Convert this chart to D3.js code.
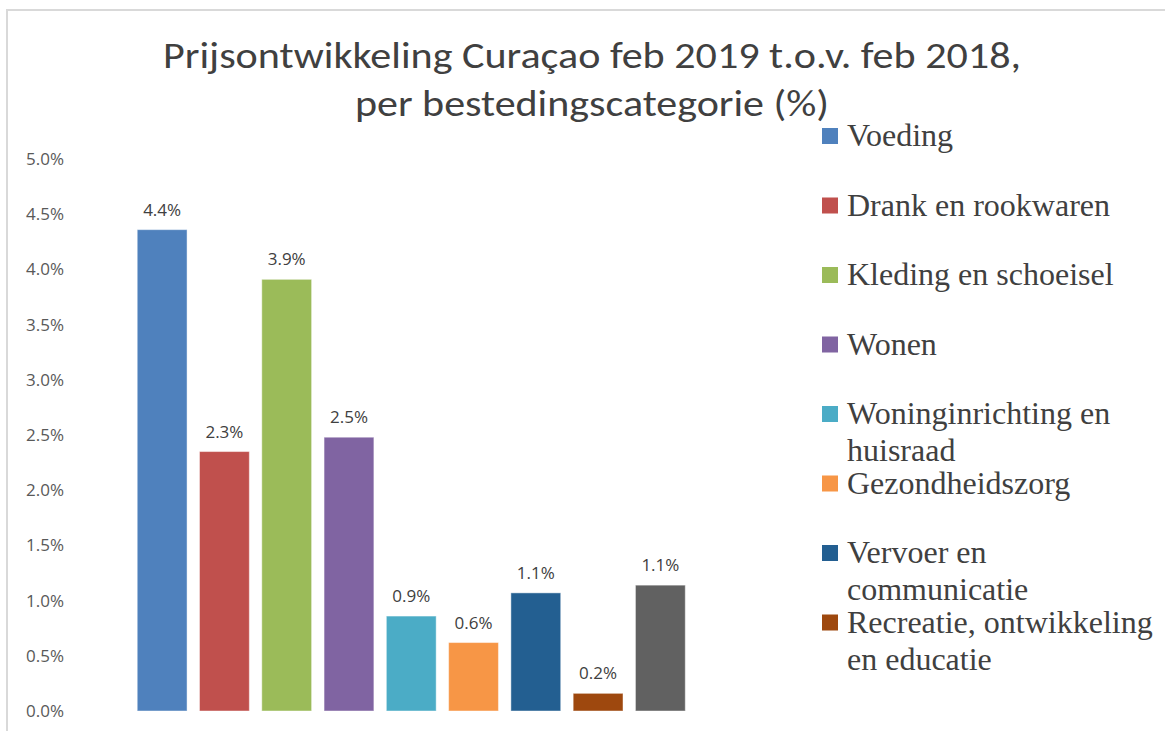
<!DOCTYPE html>
<html>
<head>
<meta charset="utf-8">
<script src="https://cdn.jsdelivr.net/npm/d3@7"></script>
<style>
  html, body { margin: 0; padding: 0; background: #fff; }
  svg { display: block; }
</style>
</head>
<body>
<div id="chart"></div>
<script>
// Prijsontwikkeling Curaçao — bar chart per bestedingscategorie

const titleLines = ['Prijsontwikkeling Curaçao feb 2019 t.o.v. feb 2018,', 'per bestedingscategorie (%)'];
const categories = [
  'Voeding', 'Drank en rookwaren', 'Kleding en schoeisel', 'Wonen',
  'Woninginrichting en huisraad', 'Gezondheidszorg', 'Vervoer en communicatie',
  'Recreatie, ontwikkeling en educatie', 'Overige'
];
const values = [4.36, 2.35, 3.91, 2.48, 0.86, 0.62, 1.07, 0.16, 1.14];
const labels = ['4.4%', '2.3%', '3.9%', '2.5%', '0.9%', '0.6%', '1.1%', '0.2%', '1.1%'];
const colors = ['#4f81bd', '#c0504d', '#9bbb59', '#8064a2', '#4bacc6', '#f79646', '#235f91', '#9e480e', '#616161'];
const yTicks = [0, 0.5, 1, 1.5, 2, 2.5, 3, 3.5, 4, 4.5, 5];
const legendCount = 8; // the last entry doesn't fit in the legend box

const W = 1165, H = 731;
const plot = { left: 131, right: 691.5, top: 159, bottom: 711 };

const svg = d3.select('#chart').append('svg')
  .attr('width', W)
  .attr('height', H);

// Chart frame (only top and left edges are in view)
svg.append('path')
  .attr('d', `M7,${H} V10 H${W}`)
  .attr('fill', 'none')
  .attr('stroke', '#d9d9d9')
  .attr('stroke-width', 2);

// Title
svg.append('g').selectAll('text')
  .data(titleLines)
  .join('text')
  .attr('x', 592)
  .attr('y', (d, i) => 68 + i * 48)
  .attr('text-anchor', 'middle')
  .attr('font-family', 'Carlito, Calibri, Lato, "Open Sans", sans-serif')
  .attr('font-size', '36px')
  .attr('fill', '#404040')
  .attr('textLength', (d, i) => i === 0 ? 858 : 474)
  .attr('lengthAdjust', 'spacingAndGlyphs')
  .text(d => d);

// Scales
const x = d3.scaleBand()
  .domain(categories)
  .range([plot.left, plot.right])
  .paddingInner(0.2)
  .paddingOuter(0.1);

const y = d3.scaleLinear()
  .domain([0, 5])
  .range([plot.bottom, plot.top]);

// Y axis labels (no axis line, no gridlines)
const yAxis = svg.append('g')
  .attr('transform', 'translate(64,0)')
  .call(d3.axisLeft(y).tickValues(yTicks).tickSize(0).tickPadding(0).tickFormat(d => d.toFixed(1) + '%'));
yAxis.select('.domain').remove();
yAxis.selectAll('text')
  .attr('font-family', '"Open Sans", sans-serif')
  .attr('font-size', '17px')
  .attr('fill', '#595959');

// Bars
svg.append('g').selectAll('rect')
  .data(categories)
  .join('rect')
  .attr('x', d => x(d))
  .attr('y', (d, i) => y(values[i]))
  .attr('width', x.bandwidth())
  .attr('height', (d, i) => y(0) - y(values[i]))
  .attr('fill', (d, i) => colors[i])
  .attr('stroke', 'rgba(255,255,255,0.45)')
  .attr('stroke-width', 1);

// Data labels
svg.append('g').selectAll('text')
  .data(categories)
  .join('text')
  .attr('x', d => x(d) + x.bandwidth() / 2)
  .attr('y', (d, i) => y(values[i]) - 14)
  .attr('text-anchor', 'middle')
  .attr('font-family', '"Open Sans", sans-serif')
  .attr('font-size', '17px')
  .attr('fill', '#404040')
  .text((d, i) => labels[i]);

// Legend
const legendX = 822, legendTop = 146, legendStep = 69.5, lineH = 37, maxTextW = 318;
const legend = svg.append('g');

categories.slice(0, legendCount).forEach((name, i) => {
  const by = legendTop + i * legendStep;
  const item = legend.append('g');

  item.append('rect')
    .attr('x', legendX)
    .attr('y', by - 18)
    .attr('width', 16)
    .attr('height', 16)
    .attr('fill', colors[i]);

  const txt = item.append('text')
    .attr('x', legendX + 25)
    .attr('y', by)
    .attr('font-family', '"Liberation Serif", "Times New Roman", serif')
    .attr('font-size', '32px')
    .attr('fill', '#404040');

  // simple word wrap
  const words = name.split(' ');
  let line = [];
  let lineNo = 0;
  let tspan = txt.append('tspan').attr('x', legendX + 25).attr('y', by);
  words.forEach(w => {
    line.push(w);
    tspan.text(line.join(' '));
    if (tspan.node().getComputedTextLength() > maxTextW && line.length > 1) {
      line.pop();
      tspan.text(line.join(' '));
      line = [w];
      lineNo++;
      tspan = txt.append('tspan')
        .attr('x', legendX + 25)
        .attr('y', by + lineNo * lineH)
        .text(w);
    }
  });
});
</script>
</body>
</html>
